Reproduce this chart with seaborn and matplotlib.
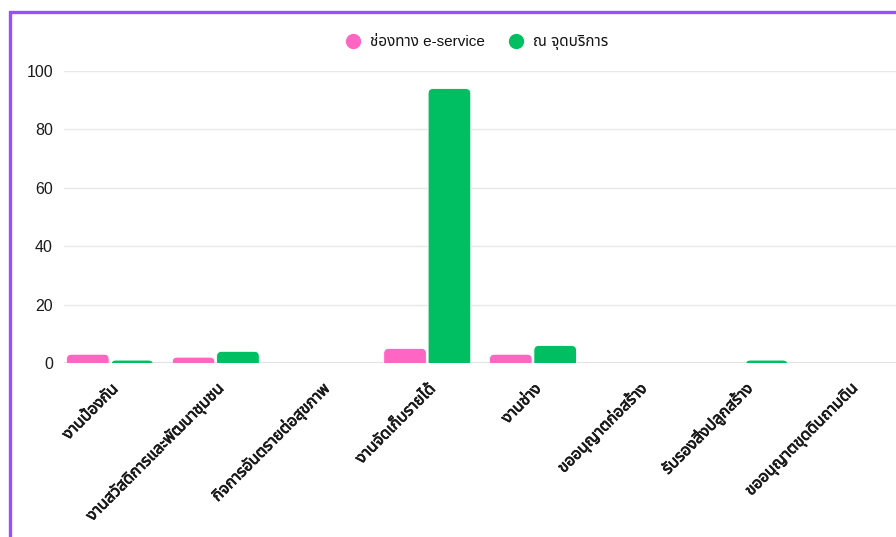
import matplotlib
matplotlib.use("Agg")
import matplotlib.pyplot as plt
from matplotlib import font_manager, ft2font
from matplotlib.patches import FancyBboxPatch, Rectangle
from matplotlib.lines import Line2D
import matplotlib.transforms as mtransforms
import matplotlib.patheffects as pe
import seaborn as sns
import pandas as pd

# ---------------- data ----------------
categories = [
    "งานป้องกัน",
    "งานสวัสดิการและพัฒนาชุมชน",
    "กิจการอันตรายต่อสุขภาพ",
    "งานจัดเก็บรายได้",
    "งานช่าง",
    "ขออนุญาตก่อสร้าง",
    "รับรองสิ่งปลูกสร้าง",
    "ขออนุญาตขุดดินถามดิน",
]
series_names = ["ช่องทาง e-service", "ณ จุดบริการ"]
eservice = [3, 2, 0, 5, 3, 0, 0, 0]
counter = [1, 4, 0, 94, 6, 0, 1, 0]
y_ticks = [0, 20, 40, 60, 80, 100]
colors = ["#ff66c4", "#00bf63"]

# ---------------- fonts ----------------
def find_thai_font():
    prefs = ["Noto Sans Thai", "Noto Sans Thai UI", "Noto Sans Thai Looped",
             "Sarabun", "Loma", "Garuda", "Waree", "Umpush", "Tlwg Typo",
             "Kinnari", "Norasi", "Laksaman"]
    found = {}
    for f in font_manager.fontManager.ttflist:
        if f.name in found:
            continue
        try:
            cm = ft2font.FT2Font(f.fname).get_charmap()
        except Exception:
            continue
        if 0x0E01 in cm and 0x0E34 in cm:
            found[f.name] = f
    for p in prefs:
        if p in found:
            return p
    return next(iter(found), None)

sns.set_theme(style="white")
thai = find_thai_font()
fam = ["Liberation Sans"] + ([thai] if thai else []) + ["DejaVu Sans"]
plt.rcParams["font.family"] = fam

# ---------------- data frame ----------------
df = pd.DataFrame({
    "category": categories * 2,
    "value": eservice + counter,
    "channel": [series_names[0]] * len(categories) + [series_names[1]] * len(categories),
})

W, H = 896, 537
fig = plt.figure(figsize=(W / 100, H / 100), dpi=100)
fig.patch.set_facecolor("white")

left_px, right_px, top_px, bottom_px = 64, 896, 71, 363
ax = fig.add_axes([left_px / W, 1 - bottom_px / H,
                   (right_px - left_px) / W, (bottom_px - top_px) / H])

sns.barplot(data=df, x="category", y="value", hue="channel",
            palette=colors, width=0.84, gap=0.04, saturation=1,
            legend=False, ax=ax)

ax.set_xlim(-0.435, 7.433)
ax.set_ylim(0, 100)
ax.set_yticks(y_ticks)
ax.set_xlabel("")
ax.set_ylabel("")
ax.set_facecolor("white")
for s in ax.spines.values():
    s.set_visible(False)
ax.yaxis.grid(True, color="#e8e8e8", lw=1.0)
ax.xaxis.grid(False)
ax.set_axisbelow(True)
ax.axhline(0, color="#dcdcdc", lw=1.2, zorder=1)

ax.tick_params(axis="y", length=0, pad=8, labelsize=11.5, labelcolor="#1a1a1a")
ax.tick_params(axis="x", length=0, pad=17, labelsize=11.5, labelcolor="#1a1a1a")
for lbl in ax.get_xticklabels():
    lbl.set_rotation(45)
    lbl.set_ha("right")
    lbl.set_va("center")
    lbl.set_rotation_mode("anchor")
    lbl.set_path_effects([pe.withStroke(linewidth=0.55, foreground="#1a1a1a")])
    lbl.set_transform(lbl.get_transform() +
                      mtransforms.ScaledTranslation(4 / 72, 0, fig.dpi_scale_trans))

# rounded bar tops
fig.canvas.draw()
p0 = ax.transData.transform((0, 0))
p1 = ax.transData.transform((1, 1))
px_x = p1[0] - p0[0]
px_y = p1[1] - p0[1]
r_px = 5.0
r = r_px / px_x
aspect = px_x / px_y
for p in list(ax.patches):
    x, w, h = p.get_x(), p.get_width(), p.get_height()
    fc = p.get_facecolor()
    p.remove()
    if h <= 0:
        continue
    ext = 2 * r_px / px_y
    fb = FancyBboxPatch((x, -ext), w, h + ext,
                        boxstyle=f"round,pad=0,rounding_size={r}",
                        mutation_aspect=aspect, fc=fc, ec="white", lw=0.6,
                        zorder=3)
    ax.add_patch(fb)
    fb.set_clip_path(ax.patch)

# legend
handles = [Line2D([0], [0], marker="o", ls="", markersize=10,
                  markerfacecolor=c, markeredgecolor=c) for c in colors]
leg = fig.legend(handles, series_names, loc="center",
                 bbox_to_anchor=(473 / W, 1 - 43 / H), ncol=2, frameon=False,
                 handletextpad=0.1, columnspacing=1.1,
                 prop={"size": 11}, labelcolor="#111111")

# purple card border
fig.add_artist(Rectangle((10 / W, -0.1), 1.2, 1 - 11.5 / H + 0.1,
                         transform=fig.transFigure, fill=False,
                         ec="#9b4dff", lw=2.4, zorder=10))

fig.savefig("out.png", dpi=100, facecolor="white")
